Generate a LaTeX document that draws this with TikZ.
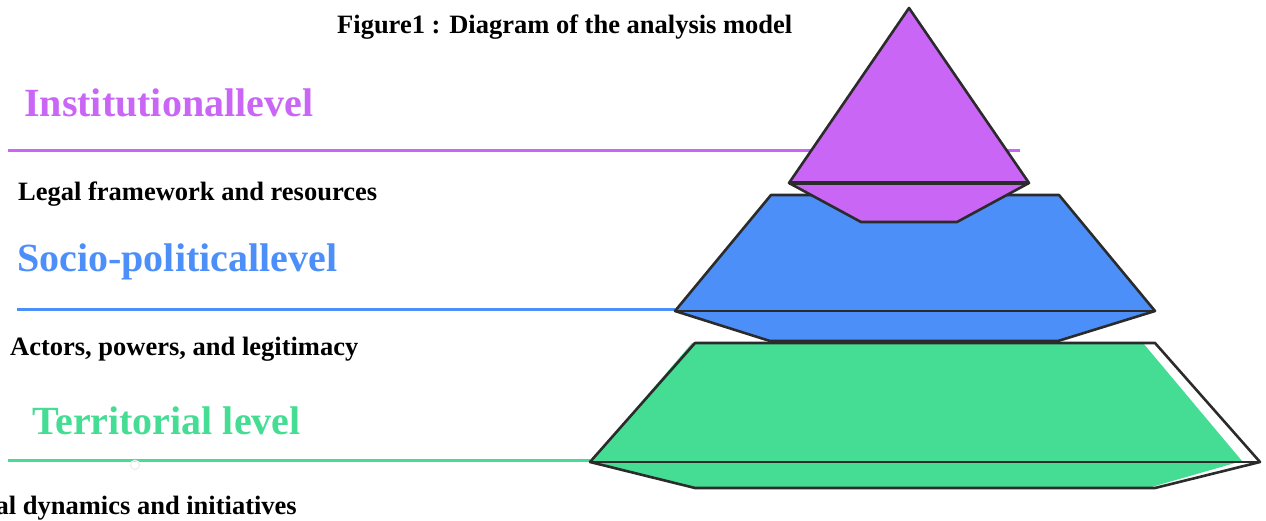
\documentclass[tikz,border=0pt]{standalone}
\usepackage{fontspec}
\setmainfont{Liberation Serif}
\usetikzlibrary{positioning}
\definecolor{instpurple}{HTML}{C966F6}
\definecolor{socblue}{HTML}{4D8FF9}
\definecolor{terrgreen}{HTML}{44DD93}
\definecolor{edgegray}{HTML}{2B2B2B}

\begin{document}
\begin{tikzpicture}[x=1pt, y=-1pt,
    lvltitle/.style={anchor=base west, inner sep=0pt,
      font=\fontsize{40}{48}\selectfont\bfseries},
    lvlnote/.style={anchor=base west, inner sep=0pt,
      font=\fontsize{26.5}{32}\selectfont\bfseries},
    layer/.style={draw=edgegray, line width=2.6pt, line join=round},
    rule/.style={line width=3pt},
  ]
    \useasboundingbox (0,0) rectangle (1266,521);

    % pyramid corners
    \coordinate (apex)  at (909,8);
    \coordinate (instL) at (789,183);
    \coordinate (instR) at (1029,183);
    \coordinate (socL)  at (675,311);
    \coordinate (socR)  at (1155,311);
    \coordinate (terL)  at (590,462);
    \coordinate (terR)  at (1260,462);

    % Labels on the left
    \node[lvlnote] (title) at (337,34) {Figure1 : Diagram of the analysis model};
    \node[lvltitle, text=instpurple] (inst) at (24,117) {Institutionallevel};
    \node[lvlnote] (instnote) at (18,201) {Legal framework and resources};
    \node[lvltitle, text=socblue] (soc) at (17,272) {Socio-politicallevel};
    \node[lvlnote] (socnote) at (10,355) {Actors, powers, and legitimacy};
    \node[lvltitle, text=terrgreen] (terr) at (32,434) {Territorial level};
    \node[lvlnote, anchor=base east] (terrnote) at (297,514) {al dynamics and initiatives};

    % Rules running into the pyramid
    \coordinate (instA) at (8,151);
    \coordinate (instB) at (1020,151);
    \coordinate (socA)  at (17,309);
    \coordinate (terA)  at (8,460);
    \draw[rule, instpurple] (instA) -- (instB);
    \draw[rule, socblue]    (socA) -- (socA -| socL);
    \draw[rule, terrgreen]  (terA) -- (terA -| terL);
    \node[circle, draw=gray!12, line width=1.5pt, minimum size=9pt,
      inner sep=0pt] (knob) at (135,465) {};

    % Bottom layer: territorial
    \fill[terrgreen] (692,343) -- (1143,343) -- (1242,461) -- (1148,488)
      -- (695,488) -- (terL) -- cycle;
    \draw[layer] (695,343) -- (1155,343) -- (terR) -- (1155,488)
      -- (695,488) -- (terL) -- cycle;
    \draw[layer] (terL) -- (terR);

    % Middle layer: socio-political
    \draw[layer, fill=socblue] (771,195) -- (1059,195) -- (socR) -- (1058,341)
      -- (770,341) -- (socL) -- cycle;
    \draw[layer] (socL) -- (socR);

    % Top layer: institutional
    \draw[layer, fill=instpurple] (apex) -- (instR) -- (957,222) -- (861,222)
      -- (instL) -- cycle;
    \draw[layer, line width=3.2pt] (instL) -- (instR);
  \end{tikzpicture}
\end{document}
